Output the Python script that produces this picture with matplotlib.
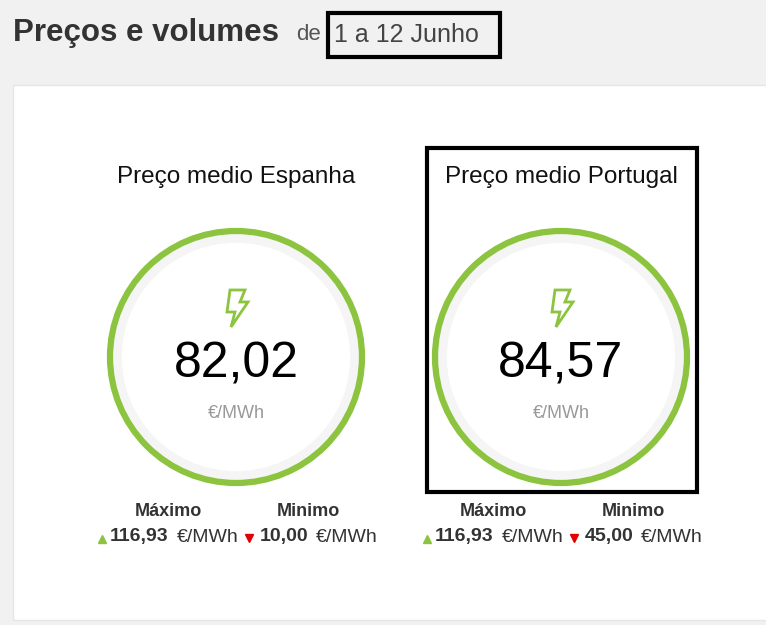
import matplotlib
matplotlib.use("Agg")
import matplotlib.pyplot as plt
from matplotlib.patches import Circle, Rectangle, Polygon

plt.rcParams['font.family'] = ['Liberation Sans', 'DejaVu Sans']

regions = ["Preço medio Espanha", "Preço medio Portugal"]
avg_prices = ["82,02", "84,57"]
max_prices = ["116,93", "116,93"]
min_prices = ["10,00", "45,00"]
unit = "€/MWh"
period = "1 a 12 Junho"

GREEN = "#8cc43f"
fig = plt.figure(figsize=(7.66, 6.25), dpi=100)
fig.patch.set_facecolor("#f1f1f1")
ax = fig.add_axes([0, 0, 1, 1])
ax.set_xlim(0, 766); ax.set_ylim(625, 0); ax.axis("off")

ax.add_patch(Rectangle((13, 85), 760, 535, facecolor="white", edgecolor="#e6e6e6", lw=1))
ax.text(13, 33, "Preços e volumes", fontsize=22.5, fontweight="bold", color="#333333", va="center")
ax.text(296, 35, "de", fontsize=16, color="#555555", va="center")
ax.text(334, 35, period, fontsize=18, color="#444444", va="center")
ax.add_patch(Rectangle((328, 13), 172, 44, fill=False, edgecolor="black", lw=3))

centers = [236, 561]
for i, cx in enumerate(centers):
    cy = 357
    ax.text(cx, 177, regions[i], fontsize=17.5, ha="center", va="center", color="#111111")
    ax.add_patch(Circle((cx, cy), 119, facecolor="none", edgecolor="#f5f5f5", lw=7))
    ax.add_patch(Circle((cx, cy), 126, facecolor="none", edgecolor=GREEN, lw=4.5))
    bolt = [(-6, -19), (9, -19), (4, -7), (12, -7), (-5, 18), (-1, 3), (-9, 3)]
    ax.add_patch(Polygon([(cx + x, 309 + y) for x, y in bolt], closed=True,
                         facecolor="none", edgecolor=GREEN, lw=2, joinstyle="miter"))
    ax.text(cx, 364, avg_prices[i], fontsize=36, ha="center", va="center", color="black")
    ax.text(cx, 413, unit, fontsize=13, ha="center", va="center", color="#999999")
    ax.text(cx - 68, 512, "Máximo", fontsize=13, fontweight="bold", ha="center", va="center", color="#333333")
    ax.text(cx + 72, 512, "Minimo", fontsize=13, fontweight="bold", ha="center", va="center", color="#333333")
    ax.plot(cx - 134, 539, marker="^", color=GREEN, ms=6)
    ax.text(cx - 126, 537, max_prices[i], fontsize=14, fontweight="bold", ha="left", va="center", color="#333333")
    ax.text(cx - 59, 537, unit, fontsize=14, ha="left", va="center", color="#333333")
    ax.plot(cx + 13, 538, marker="v", color="#e00000", ms=6)
    ax.text(cx + 24, 537, min_prices[i], fontsize=14, fontweight="bold", ha="left", va="center", color="#333333")
    ax.text(cx + 80, 537, unit, fontsize=14, ha="left", va="center", color="#333333")

ax.add_patch(Rectangle((427, 148), 270, 344, fill=False, edgecolor="black", lw=3))
fig.savefig("out.png", dpi=100, facecolor=fig.get_facecolor())
